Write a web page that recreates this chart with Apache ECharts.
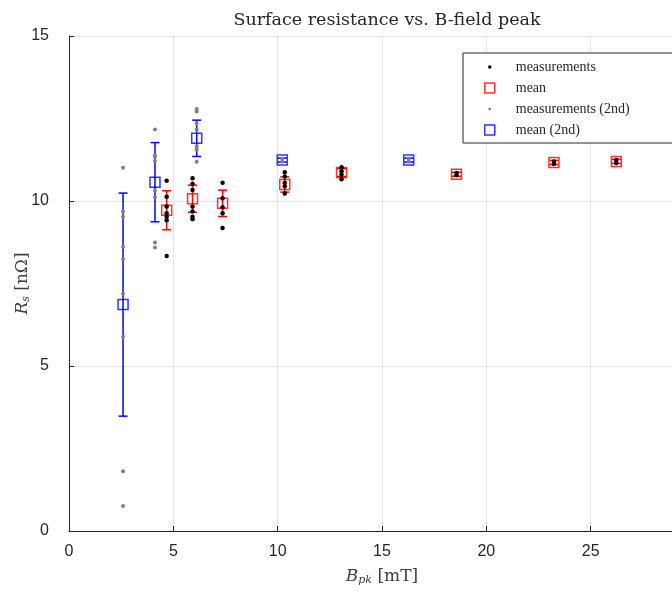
<!DOCTYPE html>
<html>
<head>
<meta charset="utf-8">
<script src="https://cdn.jsdelivr.net/npm/echarts@6/dist/echarts.min.js"></script>
<style>html,body{margin:0;padding:0;background:#fff}#c{width:672px;height:592px}</style>
</head>
<body>
<div id="c"></div>
<script>
// ---- data ----
const titleText = 'Surface resistance vs. B-field peak';
const xTicks = [0, 5, 10, 15, 20, 25, 30];
const yTicks = [0, 5, 10, 15];

// first run: field positions, mean values, error half-widths
const bpk1 = [4.68, 5.92, 7.36, 10.34, 13.06, 18.57, 23.24, 26.23];
const mean1 = [9.72, 10.07, 9.93, 10.50, 10.86, 10.81, 11.17, 11.20];
const err1 = [0.59, 0.41, 0.40, 0.23, 0.12, 0.06, 0.06, 0.06];
// individual measurements, one list per field position of bpk1
const meas1 = [
  [10.61, 10.13, 9.83, 9.63, 9.52, 9.42, 8.33],
  [10.69, 10.52, 10.33, 9.83, 9.68, 9.52, 9.45],
  [10.55, 10.08, 9.81, 9.63, 9.18],
  [10.87, 10.74, 10.55, 10.45, 10.23],
  [11.02, 10.90, 10.80, 10.66],
  [10.85, 10.78],
  [11.20, 11.12],
  [11.24, 11.15]
];

// second run
const bpk2 = [2.59, 4.12, 6.12, 10.22, 16.28];
const mean2 = [6.86, 10.57, 11.90, 11.24, 11.24];
const err2 = [3.38, 1.20, 0.55, 0.06, 0.06];
const meas2 = [
  [11.01, 9.68, 9.52, 8.61, 8.24, 7.19, 5.89, 1.81, 0.76],
  [12.17, 11.39, 11.34, 11.21, 10.31, 10.11, 8.74, 8.59],
  [12.79, 12.71, 12.35, 12.17, 11.65, 11.55, 11.19],
  [11.28, 11.20],
  [11.28, 11.20]
];

// ---- build series data ----
function pts(xs, groups) {
  const out = [];
  xs.forEach((x, i) => groups[i].forEach(v => out.push([x, v])));
  return out;
}
function errData(xs, m, e) { return xs.map((x, i) => [x, m[i] - e[i], m[i] + e[i]]); }
function meanData(xs, m) { return xs.map((x, i) => [x, m[i]]); }

function errorBarSeries(data, color) {
  return {
    type: 'custom',
    name: '_err_' + color,
    data: data,
    encode: { x: 0, y: [1, 2] },
    z: 3,
    silent: true,
    renderItem: function (params, api) {
      const x = api.value(0), lo = api.value(1), hi = api.value(2);
      const p1 = api.coord([x, hi]), p2 = api.coord([x, lo]);
      const cw = 4.5;
      const st = { stroke: color, lineWidth: 1.5, fill: null };
      return {
        type: 'group',
        children: [
          { type: 'line', shape: { x1: p1[0], y1: p1[1], x2: p2[0], y2: p2[1] }, style: st },
          { type: 'line', shape: { x1: p1[0] - cw, y1: p1[1], x2: p1[0] + cw, y2: p1[1] }, style: st },
          { type: 'line', shape: { x1: p2[0] - cw, y1: p2[1], x2: p2[0] + cw, y2: p2[1] }, style: st }
        ]
      };
    }
  };
}

const dotIcon = 'path://M0,0M10,10M5,3.2L6.3,3.7L6.8,5L6.3,6.3L5,6.8L3.7,6.3L3.2,5L3.7,3.7Z';
const dotIconSmall = 'path://M0,0M10,10M5,3.6L6,4L6.4,5L6,6L5,6.4L4,6L3.6,5L4,4Z';

const chart = echarts.init(document.getElementById('c'), null, { renderer: 'canvas' });
const axisColor = '#262626';
const nameRich = {
  i: { fontFamily: 'DejaVu Serif', fontStyle: 'italic', fontSize: 17, color: '#404040' },
  sub: { fontFamily: 'DejaVu Serif', fontStyle: 'italic', fontSize: 11, color: '#404040', padding: [8, 0, 0, 0] }
};
const option = {
  animation: false,
  backgroundColor: '#ffffff',
  title: {
    text: titleText,
    left: 382,
    top: 6,
    textAlign: 'center',
    textStyle: { fontFamily: 'DejaVu Serif', fontSize: 17.5, fontWeight: 'normal', color: '#262626' }
  },
  grid: { left: 69, right: -23, top: 36, bottom: 61, containLabel: false, outerBoundsMode: 'none' },
  legend: {
    orient: 'vertical',
    left: 463,
    top: 53,
    padding: [7, 80, 6, 21],
    itemGap: 7,
    itemWidth: 10,
    itemHeight: 10,
    borderColor: '#262626',
    borderWidth: 1,
    backgroundColor: '#ffffff',
    textStyle: { fontFamily: 'Liberation Serif', fontSize: 14, color: '#262626', lineHeight: 14, padding: [0, 0, 0, 16] },
    data: [
      { name: 'measurements', icon: dotIcon, itemStyle: { color: '#000000', borderWidth: 0 } },
      { name: 'mean', icon: 'rect', itemStyle: { color: 'rgba(0,0,0,0)', borderColor: '#ff0000', borderWidth: 1.5 } },
      { name: 'measurements (2nd)', icon: dotIconSmall, itemStyle: { color: '#808080', borderWidth: 0 } },
      { name: 'mean (2nd)', icon: 'rect', itemStyle: { color: 'rgba(0,0,0,0)', borderColor: '#0000ff', borderWidth: 1.5 } }
    ]
  },
  xAxis: {
    type: 'value',
    min: xTicks[0], max: xTicks[xTicks.length - 1], interval: 5,
    name: '{i|B}{sub|pk} [mT]',
    nameLocation: 'middle',
    nameGap: 36,
    nameMoveOverlap: false,
    nameTextStyle: { fontFamily: 'DejaVu Serif', fontSize: 17, color: '#404040', rich: nameRich },
    axisLine: { show: true, onZero: false, lineStyle: { color: axisColor, width: 1 } },
    axisTick: { show: true, inside: true, length: 5, lineStyle: { color: axisColor } },
    axisLabel: { fontFamily: 'Liberation Sans', fontSize: 16, color: '#262626', margin: 13 },
    splitLine: { show: true, lineStyle: { color: '#e3e3e3', width: 1 } }
  },
  yAxis: {
    type: 'value',
    min: yTicks[0], max: yTicks[yTicks.length - 1], interval: 5,
    name: '{i|R}{sub|s} [nΩ]',
    nameLocation: 'middle',
    nameGap: 37,
    nameMoveOverlap: false,
    nameRotate: 90,
    nameTextStyle: { fontFamily: 'DejaVu Serif', fontSize: 17, color: '#404040', rich: nameRich },
    axisLine: { show: true, onZero: false, lineStyle: { color: axisColor, width: 1 } },
    axisTick: { show: true, inside: true, length: 5, lineStyle: { color: axisColor } },
    axisLabel: { fontFamily: 'Liberation Sans', fontSize: 16, color: '#262626', margin: 20 },
    splitLine: { show: true, lineStyle: { color: '#e3e3e3', width: 1 } }
  },
  series: [
    errorBarSeries(errData(bpk1, mean1, err1), '#ff0000'),
    {
      name: 'mean', type: 'scatter', data: meanData(bpk1, mean1),
      symbol: 'rect', symbolSize: 10, z: 4,
      itemStyle: { color: 'rgba(0,0,0,0)', borderColor: '#ff0000', borderWidth: 1.5 }
    },
    {
      name: 'measurements', type: 'scatter', data: pts(bpk1, meas1),
      symbol: 'circle', symbolSize: 4.5, z: 5,
      itemStyle: { color: '#000000', opacity: 1 }
    },
    errorBarSeries(errData(bpk2, mean2, err2), '#0000ff'),
    {
      name: 'mean (2nd)', type: 'scatter', data: meanData(bpk2, mean2),
      symbol: 'rect', symbolSize: 10, z: 4,
      itemStyle: { color: 'rgba(0,0,0,0)', borderColor: '#0000ff', borderWidth: 1.5 }
    },
    {
      name: 'measurements (2nd)', type: 'scatter', data: pts(bpk2, meas2),
      symbol: 'circle', symbolSize: 4, z: 5,
      itemStyle: { color: '#808080', opacity: 1 }
    }
  ]
};
chart.setOption(option);
</script>
</body>
</html>
